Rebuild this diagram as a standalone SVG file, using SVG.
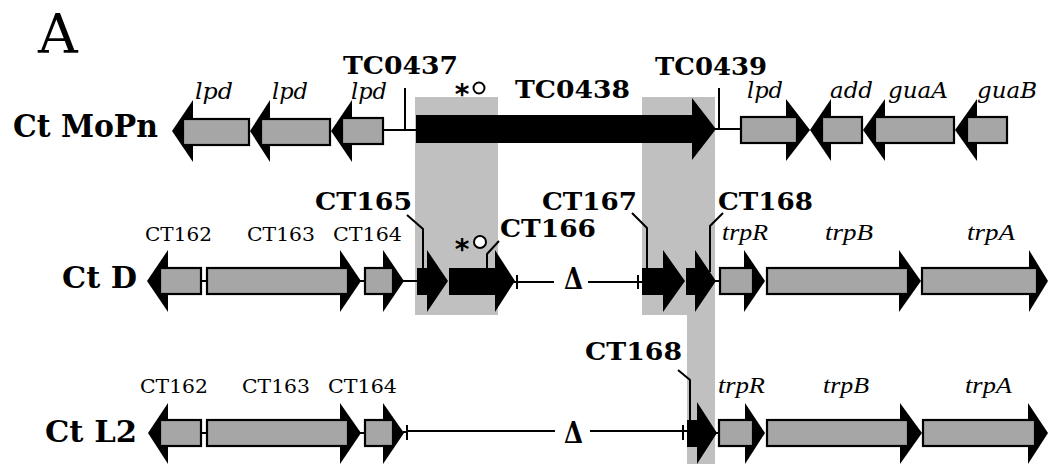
<svg xmlns="http://www.w3.org/2000/svg" width="1050" height="464" viewBox="0 0 1050 464">
<style>
.bg{fill:#fff}
.band{fill:#c0c0c0}
.head{fill:#000}
.body{fill:#a6a6a6;stroke:#000;stroke-width:2.2}
.blk{fill:#000}
.ln{stroke:#000;stroke-width:2;fill:none}
.b{font-family:"DejaVu Serif",serif;font-weight:bold;fill:#000}
.r{font-family:"DejaVu Serif",serif;fill:#000}
.i{font-family:"DejaVu Serif",serif;font-style:italic;fill:#000}
.t{font-family:"Liberation Serif",serif;font-style:italic;fill:#000}
.ast{font-family:"DejaVu Sans",sans-serif;font-weight:bold;fill:#000}
.circ{fill:#fff;stroke:#000;stroke-width:2}
.dl{font-family:"DejaVu Serif",serif;font-weight:bold;fill:#000;font-size:30px}
</style>
<rect class="bg" x="0" y="0" width="1050" height="464"/>
<g id="bands">
<rect class="band" x="415" y="97" width="83" height="218"/>
<polygon class="band" points="642,97 715,97 715,464 687,464 687,315 642,315"/>
</g>
<text class="r" x="38" y="53" font-size="55">A</text>
<g id="labels-strains">
<text class="b" x="13" y="137" font-size="31" textLength="145" lengthAdjust="spacingAndGlyphs">Ct MoPn</text>
<text class="b" x="62" y="288" font-size="30" textLength="75" lengthAdjust="spacingAndGlyphs">Ct D</text>
<text class="b" x="45" y="442" font-size="30" textLength="92" lengthAdjust="spacingAndGlyphs">Ct L2</text>
</g>
<g id="connectors">
<line class="ln" x1="383" y1="130" x2="416" y2="130"/>
<line class="ln" x1="405" y1="88" x2="405" y2="130"/>
<line class="ln" x1="714" y1="129" x2="741" y2="129"/>
<line class="ln" x1="719" y1="88" x2="719" y2="129"/>
<line class="ln" x1="200" y1="281" x2="208" y2="281"/>
<line class="ln" x1="360" y1="281" x2="366" y2="281"/>
<line class="ln" x1="403" y1="281" x2="418" y2="281"/>
<line class="ln" x1="514" y1="282" x2="554" y2="282"/>
<line class="ln" x1="517" y1="275" x2="517" y2="289"/>
<line class="ln" x1="588" y1="282" x2="643" y2="282"/>
<line class="ln" x1="638" y1="275" x2="638" y2="289"/>
<line class="ln" x1="715" y1="281" x2="721" y2="281"/>
<polyline class="ln" points="407,215 423,229 423,268"/>
<polyline class="ln" points="499,241 487,254 487,268"/>
<polyline class="ln" points="632,213 647,228 647,268"/>
<polyline class="ln" points="723,213 710,226 710,272"/>
<line class="ln" x1="200" y1="433" x2="208" y2="433"/>
<line class="ln" x1="360" y1="433" x2="366" y2="433"/>
<line class="ln" x1="403" y1="432" x2="408" y2="432"/>
<line class="ln" x1="407" y1="425" x2="407" y2="440"/>
<line class="ln" x1="407" y1="431" x2="555" y2="431"/>
<line class="ln" x1="590" y1="431" x2="688" y2="431"/>
<line class="ln" x1="683" y1="425" x2="683" y2="440"/>
<line class="ln" x1="716" y1="433" x2="720" y2="433"/>
<polyline class="ln" points="678,370 690,380 690,421"/>
</g>
<g id="mopn-lpd1"><polygon class="head" points="172,131 193,100 193,162"/><rect class="body" x="183" y="119" width="66" height="26"/><text class="i" x="195" y="99" font-size="22" textLength="38" lengthAdjust="spacingAndGlyphs">lpd</text></g>
<g id="mopn-lpd2"><polygon class="head" points="250,131 270,100 270,162"/><rect class="body" x="261" y="119" width="69" height="26"/><text class="i" x="272" y="99" font-size="22" textLength="36" lengthAdjust="spacingAndGlyphs">lpd</text></g>
<g id="mopn-lpd3"><polygon class="head" points="331,131 352,100 352,162"/><rect class="body" x="342" y="118" width="41" height="26"/><text class="i" x="351" y="99" font-size="22" textLength="36" lengthAdjust="spacingAndGlyphs">lpd</text></g>
<g id="TC0437"><text class="b" x="343" y="74" font-size="24" textLength="115" lengthAdjust="spacingAndGlyphs">TC0437</text></g>
<g id="TC0438"><polygon class="blk" points="416,115 692,115 692,98 716,129 692,160 692,143 416,143"/><text class="b" x="515" y="98" font-size="24" textLength="115" lengthAdjust="spacingAndGlyphs">TC0438</text><text class="ast" x="462" y="104" font-size="28" text-anchor="middle">*</text><circle class="circ" cx="479" cy="88" r="5.5"/></g>
<g id="TC0439"><text class="b" x="655" y="75" font-size="24" textLength="112" lengthAdjust="spacingAndGlyphs">TC0439</text></g>
<g id="mopn-lpd4"><polygon class="head" points="810,130 786,99 786,161"/><rect class="body" x="741" y="117" width="56" height="26"/><text class="i" x="747" y="98" font-size="22" textLength="36" lengthAdjust="spacingAndGlyphs">lpd</text></g>
<g id="mopn-add"><polygon class="head" points="810,130 831,99 831,161"/><rect class="body" x="822" y="117" width="40" height="26"/><text class="i" x="830" y="98" font-size="22" textLength="43" lengthAdjust="spacingAndGlyphs">add</text></g>
<g id="mopn-guaA"><polygon class="head" points="863,130 885,99 885,161"/><rect class="body" x="875" y="117" width="79" height="26"/><text class="i" x="888" y="98" font-size="22" textLength="60" lengthAdjust="spacingAndGlyphs">guaA</text></g>
<g id="mopn-guaB"><polygon class="head" points="955,130 977,99 977,161"/><rect class="body" x="967" y="117" width="40" height="26"/><text class="i" x="977" y="98" font-size="22" textLength="60" lengthAdjust="spacingAndGlyphs">guaB</text></g>
<g id="d-CT162"><polygon class="head" points="147,281 168,250 168,312"/><rect class="body" x="160" y="268" width="41" height="26"/><text class="r" x="145" y="241" font-size="19" textLength="67" lengthAdjust="spacingAndGlyphs">CT162</text></g>
<g id="d-CT163"><polygon class="head" points="361,281 340,250 340,312"/><rect class="body" x="207" y="268" width="141" height="26"/><text class="r" x="247" y="241" font-size="19" textLength="68" lengthAdjust="spacingAndGlyphs">CT163</text></g>
<g id="d-CT164"><polygon class="head" points="404,281 383,250 383,312"/><rect class="body" x="365" y="268" width="28" height="26"/><text class="r" x="333" y="241" font-size="19" textLength="69" lengthAdjust="spacingAndGlyphs">CT164</text></g>
<g id="d-CT165"><polygon class="blk" points="417,268 427,268 427,250 448,281 427,312 427,295 417,295"/><text class="b" x="315" y="210" font-size="24" textLength="97" lengthAdjust="spacingAndGlyphs">CT165</text></g>
<g id="d-CT166"><polygon class="blk" points="449,268 495,268 495,250 515,281 495,312 495,295 449,295"/><text class="b" x="500" y="237" font-size="24" textLength="96" lengthAdjust="spacingAndGlyphs">CT166</text><text class="ast" x="462" y="259" font-size="28" text-anchor="middle">*</text><circle class="circ" cx="480" cy="242" r="6"/></g>
<g id="d-delta"><text class="dl" x="564" y="289" textLength="19" lengthAdjust="spacingAndGlyphs">Δ</text></g>
<g id="d-CT167"><polygon class="blk" points="642,268 663,268 663,250 685,281 663,312 663,295 642,295"/><text class="b" x="542" y="210" font-size="24" textLength="95" lengthAdjust="spacingAndGlyphs">CT167</text></g>
<g id="d-CT168"><polygon class="blk" points="686,268 695,268 695,250 716,281 695,312 695,295 686,295"/><text class="b" x="718" y="210" font-size="24" textLength="95" lengthAdjust="spacingAndGlyphs">CT168</text></g>
<g id="d-trpR"><polygon class="head" points="765,281 744,250 744,312"/><rect class="body" x="720" y="268" width="33" height="26"/><text class="t" x="722" y="240" font-size="23" textLength="46" lengthAdjust="spacingAndGlyphs">trpR</text></g>
<g id="d-trpB"><polygon class="head" points="921,281 899,250 899,312"/><rect class="body" x="767" y="268" width="141" height="26"/><text class="t" x="825" y="240" font-size="23" textLength="48" lengthAdjust="spacingAndGlyphs">trpB</text></g>
<g id="d-trpA"><polygon class="head" points="1048,281 1029,250 1029,312"/><rect class="body" x="922" y="268" width="115" height="26"/><text class="t" x="967" y="240" font-size="23" textLength="48" lengthAdjust="spacingAndGlyphs">trpA</text></g>
<g id="l2-CT162"><polygon class="head" points="148,433 168,403 168,464"/><rect class="body" x="160" y="420" width="41" height="26"/><text class="r" x="140" y="393" font-size="19" textLength="68" lengthAdjust="spacingAndGlyphs">CT162</text></g>
<g id="l2-CT163"><polygon class="head" points="361,433 340,403 340,464"/><rect class="body" x="207" y="420" width="141" height="26"/><text class="r" x="242" y="393" font-size="19" textLength="68" lengthAdjust="spacingAndGlyphs">CT163</text></g>
<g id="l2-CT164"><polygon class="head" points="404,433 383,403 383,464"/><rect class="body" x="365" y="420" width="28" height="26"/><text class="r" x="328" y="393" font-size="19" textLength="69" lengthAdjust="spacingAndGlyphs">CT164</text></g>
<g id="l2-delta"><text class="dl" x="564" y="443" textLength="19" lengthAdjust="spacingAndGlyphs">Δ</text></g>
<g id="l2-CT168"><polygon class="blk" points="687,420 697,420 697,402 717,433 697,464 697,447 687,447"/><text class="b" x="585" y="360" font-size="24" textLength="97" lengthAdjust="spacingAndGlyphs">CT168</text></g>
<g id="l2-trpR"><polygon class="head" points="765,433 745,403 745,464"/><rect class="body" x="719" y="420" width="34" height="26"/><text class="t" x="718" y="393" font-size="23" textLength="47" lengthAdjust="spacingAndGlyphs">trpR</text></g>
<g id="l2-trpB"><polygon class="head" points="922,433 900,403 900,464"/><rect class="body" x="767" y="420" width="141" height="26"/><text class="t" x="823" y="393" font-size="23" textLength="46" lengthAdjust="spacingAndGlyphs">trpB</text></g>
<g id="l2-trpA"><polygon class="head" points="1048,433 1028,403 1028,464"/><rect class="body" x="923" y="420" width="112" height="26"/><text class="t" x="965" y="393" font-size="23" textLength="47" lengthAdjust="spacingAndGlyphs">trpA</text></g>
</svg>
